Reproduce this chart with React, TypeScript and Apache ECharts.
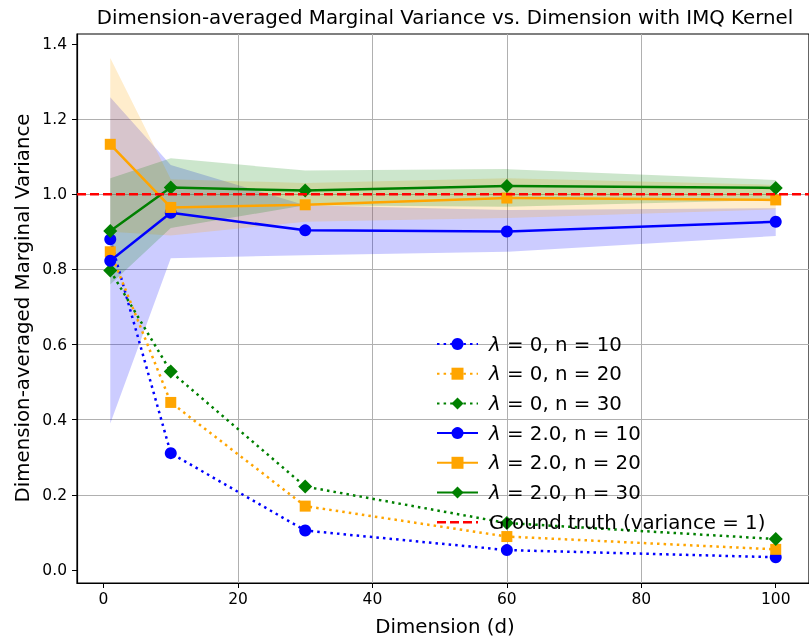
import React, { useEffect, useRef } from "react";
import * as echarts from "echarts";

const dims = [1, 10, 30, 60, 100];
const xTicks = [0, 20, 40, 60, 80, 100];
const yTicks = [0, 0.2, 0.4, 0.6, 0.8, 1.0, 1.2, 1.4];

const lam0n10 = [0.88, 0.311, 0.105, 0.053, 0.034];
const lam0n20 = [0.847, 0.446, 0.17, 0.089, 0.055];
const lam0n30 = [0.797, 0.528, 0.222, 0.125, 0.0825];
const lam2n10 = [0.823, 0.951, 0.904, 0.901, 0.927];
const lam2n20 = [1.133, 0.965, 0.972, 0.99, 0.985];
const lam2n30 = [0.902, 1.018, 1.01, 1.022, 1.017];

const band10Lo = [0.39, 0.83, 0.838, 0.847, 0.889];
const band10Hi = [1.258, 1.078, 0.971, 0.958, 0.963];
const band20Lo = [0.9, 0.89, 0.927, 0.937, 0.96];
const band20Hi = [1.363, 1.04, 1.03, 1.043, 1.025];
const band30Lo = [0.76, 0.91, 0.971, 0.967, 0.985];
const band30Hi = [1.043, 1.096, 1.063, 1.067, 1.038];

const groundTruth = 1;
const xMin = -3.95;
const xMax = 104.95;
const yMin = -0.0346;
const yMax = 1.4266;

const BLUE = "#0000ff";
const ORANGE = "#ffa500";
const GREEN = "#008000";
const FONT = "DejaVu Sans";

export default function App() {
  const ref = useRef<HTMLDivElement>(null);
  useEffect(() => {
    document.body.style.margin = "0";
    const chart = echarts.init(ref.current!, null, { renderer: "svg" });

    const pairs = (ys: number[]) => dims.map((d, i) => [d, ys[i]]);

    const band = (lo: number[], hi: number[], color: string) => ({
      type: "custom",
      coordinateSystem: "cartesian2d",
      silent: true,
      clip: true,
      z: 1,
      data: [[dims[0], lo[0]]],
      renderItem: (params: any, api: any) => {
        const top = dims.map((d, i) => api.coord([d, hi[i]]));
        const bot = dims.map((d, i) => api.coord([d, lo[i]])).reverse();
        return {
          type: "polygon",
          shape: { points: top.concat(bot) },
          style: { fill: color, stroke: "none" },
        };
      },
    });

    const line = (
      name: string,
      ys: number[],
      color: string,
      symbol: string,
      size: any,
      dotted: boolean,
      z: number
    ) => ({
      type: "line",
      name,
      data: pairs(ys),
      symbol,
      symbolSize: size,
      z,
      itemStyle: { color },
      lineStyle: {
        color,
        width: 2.5,
        type: dotted ? [2.5, 4.1] : "solid",
      },
    });

    const names = [
      "λ = 0, n = 10",
      "λ = 0, n = 20",
      "λ = 0, n = 30",
      "λ = 2.0, n = 10",
      "λ = 2.0, n = 20",
      "λ = 2.0, n = 30",
      "Ground truth (variance = 1)",
    ];

    chart.setOption({
      animation: false,
      grid: {
        left: 77,
        top: 34,
        width: 736,
        height: 549,
        show: true,
        borderColor: "#000",
        borderWidth: 1.2,
        backgroundColor: "transparent",
      },
      xAxis: {
        type: "value",
        min: xMin,
        max: xMax,
        splitNumber: 5,
        axisLine: { show: true, onZero: false, lineStyle: { color: "#000", width: 1.2 } },
        axisTick: { show: true, length: 5, customValues: xTicks, lineStyle: { color: "#000" } },
        axisLabel: {
          customValues: xTicks,
          margin: 8,
          color: "#000",
          fontSize: 15.5,
          fontFamily: FONT,
          formatter: (v: number) => String(Math.round(v)),
        },
        splitLine: { show: true, showMinLine: false, showMaxLine: false, lineStyle: { color: "#b0b0b0", width: 1 } },
      },
      yAxis: {
        type: "value",
        min: yMin,
        max: yMax,
        splitNumber: 7,
        axisLine: { show: true, onZero: false, lineStyle: { color: "#000", width: 1.2 } },
        axisTick: { show: true, length: 5, customValues: yTicks, lineStyle: { color: "#000" } },
        axisLabel: {
          customValues: yTicks,
          margin: 10,
          color: "#000",
          fontSize: 15.5,
          fontFamily: FONT,
          formatter: (v: number) => v.toFixed(1),
        },
        splitLine: { show: true, showMinLine: false, showMaxLine: false, lineStyle: { color: "#b0b0b0", width: 1 } },
      },
      legend: {
        orient: "vertical",
        left: 431,
        top: 329,
        itemWidth: 41,
        itemHeight: 15,
        itemGap: 9.7,
        backgroundColor: "transparent",
        data: [
          names[0],
          names[1],
          names[2],
          names[3],
          names[4],
          names[5],
          {
            name: names[6],
            icon: "path://M0 0h9v2.5h-9z M13 0h9v2.5h-9z M26 0h9v2.5h-9z M39 0h2v2.5h-2z",
            itemStyle: { color: "#ff0000" },
          },
        ],
        formatter: (n: string) => n.replace("λ", "{i|λ}"),
        textStyle: {
          color: "#000",
          fontSize: 19.8,
          fontFamily: FONT,
          lineHeight: 20,
          padding: [0, 0, 0, 6],
          rich: {
            i: { fontStyle: "italic", fontSize: 19.8, fontFamily: FONT, color: "#000" },
          },
        },
      },
      graphic: [
        {
          type: "text",
          x: 445,
          y: 17,
          style: {
            text: "Dimension-averaged Marginal Variance vs. Dimension with IMQ Kernel",
            align: "center",
            verticalAlign: "middle",
            fontSize: 19.8,
            fontFamily: FONT,
            fill: "#000",
          },
        },
        {
          type: "text",
          x: 445,
          y: 626,
          style: {
            text: "Dimension (d)",
            align: "center",
            verticalAlign: "middle",
            fontSize: 19.8,
            fontFamily: FONT,
            fill: "#000",
          },
        },
        {
          type: "text",
          x: 22,
          y: 308,
          rotation: Math.PI / 2,
          style: {
            text: "Dimension-averaged Marginal Variance",
            align: "center",
            verticalAlign: "middle",
            fontSize: 19.8,
            fontFamily: FONT,
            fill: "#000",
          },
        },
      ],
      series: [
        band(band10Lo, band10Hi, "rgba(0,0,255,0.2)"),
        band(band20Lo, band20Hi, "rgba(255,165,0,0.2)"),
        band(band30Lo, band30Hi, "rgba(0,128,0,0.2)"),
        line(names[0], lam0n10, BLUE, "circle", 12, true, 3),
        line(names[1], lam0n20, ORANGE, "rect", 11, true, 3),
        line(names[2], lam0n30, GREEN, "diamond", [14, 14], true, 3),
        line(names[3], lam2n10, BLUE, "circle", 12, false, 4),
        line(names[4], lam2n20, ORANGE, "rect", 11, false, 4),
        line(names[5], lam2n30, GREEN, "diamond", [14, 14], false, 4),
        {
          type: "line",
          name: names[6],
          data: [
            [xMin, groundTruth],
            [xMax, groundTruth],
          ],
          symbol: "none",
          z: 6,
          itemStyle: { color: "#ff0000" },
          lineStyle: { color: "#ff0000", width: 2.5, type: [9, 4] },
        },
      ],
    });
    return () => chart.dispose();
  }, []);
  return <div ref={ref} style={{ position: "fixed", left: 0, top: 0, width: 809, height: 639 }} />;
}
